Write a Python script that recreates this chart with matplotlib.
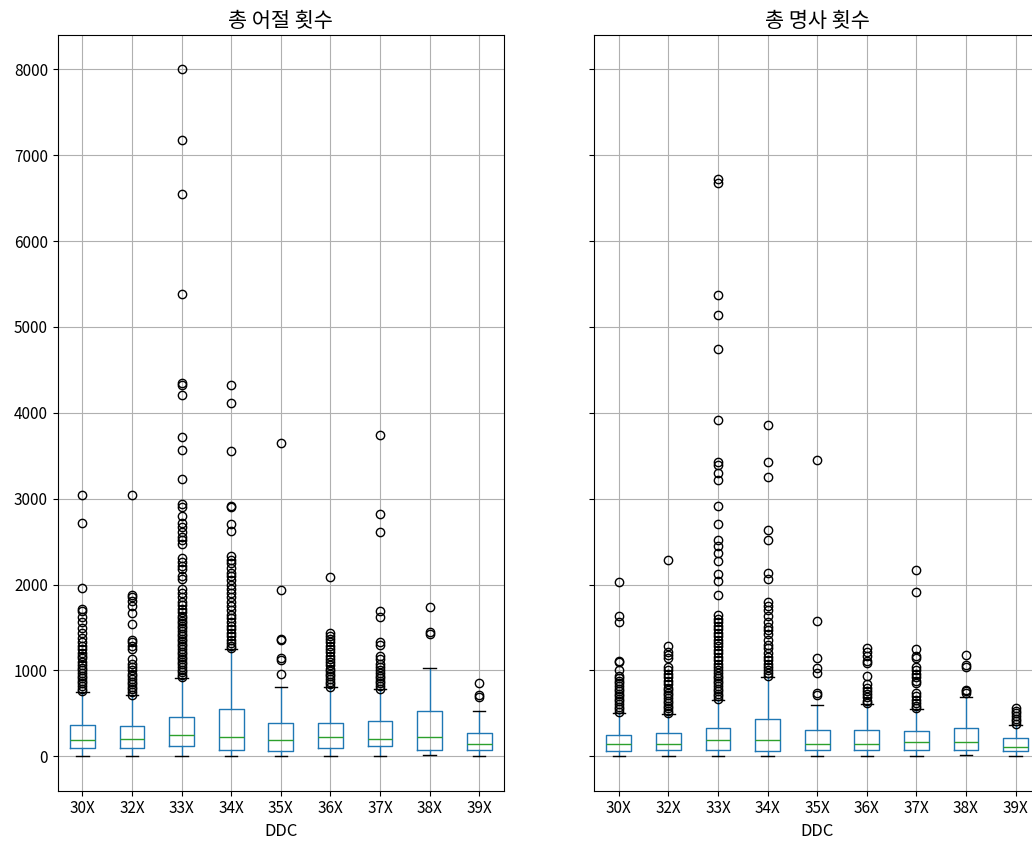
import matplotlib
matplotlib.use('Agg')
import matplotlib.pyplot as plt

plt.rcParams['font.family'] = ['Noto Sans CJK KR', 'DejaVu Sans']
plt.rcParams['axes.unicode_minus'] = False

# DDC groups
ddc = ['30X', '32X', '33X', '34X', '35X', '36X', '37X', '38X', '39X']

# 총 어절 횟수 (left panel) - box statistics
eojeol_q1 = [98, 98, 117, 78, 58, 98, 117, 78, 78]
eojeol_med = [187, 206, 250, 230, 187, 230, 206, 230, 148]
eojeol_q3 = [370, 350, 455, 557, 393, 393, 412, 533, 269]
eojeol_lo = [0, 0, 0, 0, 0, 0, 0, 20, 0]
eojeol_hi = [751, 712, 914, 1245, 802, 802, 782, 1027, 533]
eojeol_fliers = [
    [760, 790, 820, 850, 880, 910, 940, 970, 1000, 1030, 1060, 1100, 1140,
     1170, 1200, 1250, 1290, 1330, 1380, 1440, 1500, 1560, 1620, 1690, 1720,
     1965, 2720, 3040],
    [720, 750, 780, 810, 840, 870, 900, 930, 960, 1000, 1040, 1080, 1130,
     1250, 1290, 1330, 1360, 1540, 1670, 1750, 1810, 1850, 1880, 3040],
    [920, 950, 980, 1010, 1040, 1070, 1100, 1130, 1160, 1190, 1220, 1250,
     1280, 1310, 1340, 1370, 1400, 1430, 1460, 1490, 1520, 1550, 1580, 1610,
     1640, 1680, 1720, 1760, 1800, 1850, 1900, 1950, 2060, 2100, 2180, 2220,
     2260, 2310, 2470, 2520, 2560, 2610, 2670, 2720, 2800, 2900, 2940, 3230,
     3570, 3720, 4210, 4330, 4350, 5380, 6550, 7180, 8000],
    [1260, 1290, 1320, 1360, 1400, 1440, 1480, 1520, 1560, 1610, 1650, 1700,
     1750, 1800, 1850, 1900, 1950, 2000, 2050, 2100, 2140, 2190, 2250, 2290,
     2330, 2620, 2700, 2900, 2920, 3550, 4120, 4330],
    [960, 1120, 1140, 1350, 1370, 1940, 3650],
    [810, 840, 870, 900, 930, 960, 990, 1020, 1060, 1100, 1130, 1170, 1210,
     1250, 1290, 1330, 1370, 1400, 1440, 2090],
    [790, 820, 850, 880, 910, 940, 970, 1000, 1040, 1080, 1130, 1170, 1300,
     1330, 1620, 1690, 2610, 2820, 3740],
    [1430, 1450, 1740],
    [690, 710, 850],
]

# 총 명사 횟수 (right panel)
noun_q1 = [58, 78, 78, 58, 78, 78, 78, 78, 58]
noun_med = [148, 148, 187, 187, 148, 148, 167, 167, 105]
noun_q3 = [250, 269, 331, 432, 311, 311, 292, 331, 210]
noun_lo = [0, 0, 0, 0, 0, 0, 0, 20, 0]
noun_hi = [506, 494, 661, 926, 595, 615, 553, 693, 370]
noun_fliers = [
    [520, 550, 580, 610, 640, 670, 700, 730, 760, 790, 820, 850, 880, 910,
     940, 1000, 1100, 1110, 1560, 1630, 2025],
    [500, 530, 560, 590, 620, 650, 680, 710, 740, 770, 800, 840, 880, 920,
     960, 1000, 1040, 1150, 1180, 1220, 1290, 2290],
    [670, 700, 730, 760, 790, 820, 850, 880, 910, 940, 970, 1000, 1040, 1080,
     1120, 1160, 1200, 1240, 1280, 1320, 1360, 1400, 1440, 1480, 1520, 1560,
     1600, 1650, 1880, 2040, 2120, 2270, 2370, 2450, 2520, 2700, 2920, 3220,
     3300, 3390, 3430, 3920, 4740, 5140, 5370, 6680, 6720],
    [940, 970, 1000, 1040, 1080, 1120, 1160, 1200, 1260, 1300, 1360, 1420,
     1470, 1510, 1560, 1630, 1700, 1750, 1800, 2060, 2130, 2520, 2630, 3250,
     3430, 3860],
    [720, 740, 970, 1030, 1140, 1580, 3450],
    [620, 650, 690, 730, 760, 800, 840, 940, 1090, 1110, 1170, 1220, 1260],
    [560, 590, 620, 660, 700, 740, 850, 880, 920, 960, 1000, 1040, 1150, 1170,
     1250, 1910, 2170],
    [740, 760, 775, 1040, 1060, 1180],
    [380, 410, 440, 470, 500, 530, 560],
]


def make_stats(q1, med, q3, lo, hi, fliers):
    stats = []
    for i in range(len(ddc)):
        stats.append({
            'label': ddc[i],
            'q1': q1[i], 'med': med[i], 'q3': q3[i],
            'whislo': lo[i], 'whishi': hi[i],
            'fliers': fliers[i],
        })
    return stats


fig = plt.figure(figsize=(10.32, 8.43), dpi=100)
ax1 = fig.add_axes([57.7 / 1032, (843 - 790.7) / 843, 446.3 / 1032, 755.7 / 843])
ax2 = fig.add_axes([594 / 1032, (843 - 790.7) / 843, 446.3 / 1032, 755.7 / 843],
                   sharey=ax1)

panels = [
    (ax1, make_stats(eojeol_q1, eojeol_med, eojeol_q3, eojeol_lo, eojeol_hi, eojeol_fliers), '총 어절 횟수'),
    (ax2, make_stats(noun_q1, noun_med, noun_q3, noun_lo, noun_hi, noun_fliers), '총 명사 횟수'),
]

for ax, stats, title in panels:
    ax.bxp(stats,
           boxprops=dict(color='#1f77b4'),
           whiskerprops=dict(color='#1f77b4'),
           medianprops=dict(color='#2ca02c'),
           capprops=dict(color='black'),
           flierprops=dict(marker='o', markerfacecolor='none',
                           markeredgecolor='black'))
    ax.set_title(title, fontsize=15)
    ax.set_xlabel('DDC', fontsize=12)
    ax.grid(True)
    ax.tick_params(labelsize=11)

ax1.set_ylim(-400, 8400)
ax1.set_yticks([0, 1000, 2000, 3000, 4000, 5000, 6000, 7000, 8000])
plt.setp(ax2.get_yticklabels(), visible=False)

fig.savefig('out.png', dpi=100)
